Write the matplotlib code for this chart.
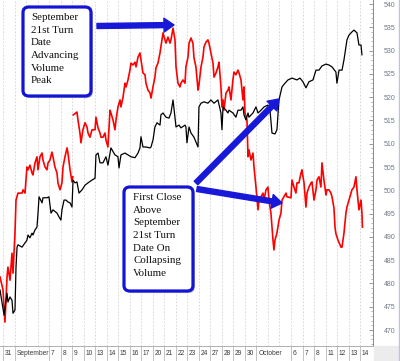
import numpy as np
import matplotlib.pyplot as plt
import matplotlib.transforms as mtransforms
from matplotlib.patches import FancyBboxPatch, FancyArrowPatch, Rectangle
from matplotlib.lines import Line2D

# x = trading session number (1 = Aug 31, ... 32 = Oct 14), fraction = time of day
black_t = [0.74, 1.09, 1.35, 1.43, 1.61, 1.78, 1.87, 2.04, 2.13, 2.22, 2.30, 2.65, 2.91, 3.08, 3.17,
           3.34, 3.52, 3.60, 3.78, 3.95, 4.04, 4.13, 4.39, 4.47, 4.82, 4.99, 5.17, 5.34, 5.69, 5.86,
           6.03, 6.12, 6.30, 6.47, 6.64, 6.82, 6.99, 7.08, 7.25, 7.42, 7.60, 7.86, 8.12, 8.38, 8.73,
           8.99, 9.07, 9.25, 9.42, 9.68, 9.94, 10.11, 10.37, 10.72, 10.98, 11.07, 11.24, 11.59, 11.85,
           12.11, 12.46, 12.72, 12.89, 12.98, 13.15, 13.41, 13.76, 13.85, 14.02, 14.19, 14.37, 14.63,
           14.71, 14.89, 15.15, 15.41, 15.58, 15.76, 15.93, 16.02, 16.28, 16.45, 16.80, 16.88, 16.97,
           17.15, 17.32, 17.58, 17.93, 18.01, 18.19, 18.45, 18.79, 19.05, 19.32, 19.66, 19.92, 20.01,
           20.10, 20.36, 20.53, 20.62, 20.96, 21.22, 21.40, 21.66, 21.83, 21.92, 22.09, 22.27, 22.35,
           22.70, 22.96, 23.14, 23.40, 23.66, 24.00, 24.18, 24.35, 24.61, 24.78, 24.96, 25.22, 25.48,
           25.74, 26.09, 26.52, 26.78, 27.04, 27.30, 27.56, 27.91, 28.17, 28.43, 28.69, 29.04, 29.30,
           29.56, 29.90, 29.99, 30.17, 30.43, 30.60, 30.86, 31.03, 31.29, 31.47, 31.73, 31.90, 32.08,
           32.16]
black_v = [478.6, 473.2, 477.9, 476.0, 477.1, 476.4, 473.6, 474.3, 483.5, 487.8, 488.3, 487.8, 488.7, 489.3, 490.4,
           489.8, 490.8, 490.4, 491.5, 492.1, 495.1, 498.6, 497.3, 498.4, 498.4, 498.6, 495.1, 495.8, 495.1, 494.3,
           493.6, 495.8, 497.9, 497.9, 497.5, 497.3, 496.4, 502.2, 501.6, 501.8, 499.4, 500.1, 501.1, 501.6, 502.2,
           502.6, 507.6, 508.0, 505.9, 505.9, 507.2, 505.4, 509.1, 507.6, 507.2, 504.8, 507.6, 508.0, 507.6,
           507.2, 507.0, 508.0, 509.1, 511.5, 509.3, 509.3, 509.1, 509.3, 510.8, 513.6, 514.5, 514.0,
           516.2, 516.6, 515.7, 515.5, 516.6, 519.4, 515.5, 513.6, 514.0, 513.4, 514.0, 513.6, 510.2,
           513.6, 512.3, 511.4, 509.3, 517.9, 518.7, 519.0, 518.7, 519.4, 518.7, 519.4, 516.6, 513.0,
           517.9, 517.2, 516.6, 517.2, 516.6, 515.7, 517.2, 517.2, 517.9, 516.2, 515.1, 516.6, 515.7,
           516.6, 517.9, 516.6, 517.2, 517.9, 518.3, 517.2, 512.3, 512.1, 513.0, 519.4, 522.2, 523.0,
           523.7, 524.1, 523.7, 524.1, 523.3, 522.0, 523.3, 523.7, 525.8, 525.8, 526.7, 527.1, 526.9,
           526.5, 525.4, 523.0, 525.8, 525.8, 528.0, 532.3, 533.3, 534.0, 534.4, 533.8, 531.2, 531.2,
           529.1]

red_t = [0.74, 1.00, 1.17, 1.26, 1.35, 1.43, 1.61, 1.78, 1.87, 2.04, 2.13, 2.30, 2.65, 2.74, 2.91,
         3.08, 3.17, 3.34, 3.52, 3.60, 3.78, 3.95, 4.04, 4.21, 4.39, 4.47, 4.65, 4.82, 4.91, 5.08,
         5.25, 5.34, 5.51, 5.69, 5.77, 5.95, 6.12, 6.21, 6.38, 6.56, 6.64, 6.82, 6.99, 7.06, 7.08,
         7.10, 7.42, 7.51, 7.68, 7.77, 7.94, 8.12, 8.29, 8.38, 8.55, 8.73, 8.99, 9.07, 9.25, 9.42,
         9.51, 9.68, 9.85, 9.94, 10.11, 10.29, 10.37, 10.55, 10.72, 10.81, 10.98, 11.16, 11.24, 11.42,
         11.59, 11.68, 11.85, 12.02, 12.11, 12.28, 12.46, 12.55, 12.72, 12.89, 12.98, 13.15, 13.33,
         13.41, 13.59, 13.76, 13.85, 14.02, 14.19, 14.28, 14.45, 14.63, 14.71, 14.89, 15.06, 15.15,
         15.32, 15.50, 15.58, 15.76, 15.93, 16.02, 16.19, 16.36, 16.45, 16.62, 16.80, 16.88, 17.06,
         17.15, 17.32, 17.49, 17.58, 17.75, 17.93, 18.01, 18.19, 18.36, 18.45, 18.62, 18.79, 18.88,
         19.05, 19.23, 19.32, 19.49, 19.66, 19.75, 19.92, 20.01, 20.10, 20.18, 20.36, 20.53, 20.62,
         20.79, 20.96, 21.05, 21.22, 21.40, 21.49, 21.66, 21.83, 21.92, 22.01, 22.18, 22.27, 22.35,
         22.53, 22.70, 22.79, 22.96, 23.14, 23.22, 23.40, 23.57, 23.66, 23.83, 24.00, 24.09, 24.26,
         24.44, 24.52, 24.61, 24.78, 24.96, 25.13, 25.22, 25.57, 25.65, 26.00, 26.09, 26.26, 26.43,
         26.52, 26.69, 26.87, 26.95, 27.13, 27.30, 27.39, 27.56, 27.74, 27.82, 28.00, 28.17, 28.26,
         28.43, 28.60, 28.69, 28.86, 29.04, 29.12, 29.30, 29.47, 29.56, 29.73, 29.82, 29.90, 30.08,
         30.34, 30.43, 30.60, 30.77, 30.86, 31.03, 31.21, 31.29, 31.47, 31.64, 31.73, 31.90, 32.08,
         32.16, 32.20]
red_v = [481.4, 478.6, 471.7, 476.4, 481.4, 483.5, 480.7, 486.5, 482.2, 490.8, 497.9, 499.4, 499.4, 500.1, 499.4,
         505.0, 504.4, 505.4, 503.7, 503.3, 505.9, 507.2, 504.4, 507.2, 508.0, 506.5, 505.0, 504.4, 505.9, 506.5,
         508.2, 507.2, 505.0, 503.7, 501.6, 500.1, 501.6, 505.0, 507.2, 509.1, 508.0, 504.4, 501.8, 502.9, np.nan,
         516.2, 516.8, 515.1, 512.3, 510.2, 513.0, 514.5, 513.6, 512.3, 511.4, 513.0, 513.0, 515.7, 513.4, 512.3,
         511.4, 511.4, 512.3, 510.8, 509.3, 517.2, 516.6, 515.1, 513.0, 515.1, 517.9, 519.4, 517.9, 520.0,
         523.0, 522.2, 523.7, 525.8, 527.3, 526.9, 527.5, 526.5, 528.6, 529.5, 528.0, 525.2, 524.8,
         523.0, 521.5, 520.9, 519.8, 522.2, 524.3, 526.3, 527.3, 529.5, 530.8, 533.8, 532.3, 531.6,
         532.9, 531.6, 532.3, 534.8, 532.3, 526.5, 523.0, 522.2, 523.0, 523.7, 523.0, 526.5, 528.6,
         531.6, 532.7, 531.6, 528.4, 526.5, 521.5, 522.6, 526.5, 528.6, 530.8, 531.8, 532.3, 531.6,
         529.5, 527.3, 524.3, 525.2, 526.5, 527.5, 522.2, 517.9, 519.4, 517.2, 520.9, 521.5, 522.2,
         519.4, 523.7, 525.4, 524.8, 525.8, 525.2, 523.7, 519.4, 522.2, 516.6, 515.1, 507.2, 508.7,
         506.5, 508.0, 505.0, 500.7, 495.8, 497.9, 498.6, 499.4, 497.9, 500.1, 500.7, 497.9, 495.1,
         489.3, 487.2, 489.3, 490.8, 493.6, 495.1, 497.9, 499.4, 498.6, 498.4, 502.2, 500.7, 499.4,
         501.6, 501.6, 503.7, 504.4, 501.6, 496.4, 499.4, 500.7, 501.6, 501.8, 497.9, 500.1, 502.2,
         502.9, 500.7, 505.9, 502.2, 499.0, 500.1, 500.1, 499.4, 498.6, 496.2, 492.1, 490.7, 489.3,
         487.8, 487.8, 490.8, 495.1, 496.4, 497.9, 499.4, 500.1, 500.7, 502.9, 500.1, 495.8, 497.9,
         495.1, 492.1]

# session labels on the time axis
day_labels = ['31', 'September', '7', '8', '9', '10', '13', '14', '15', '16', '17', '20', '21',
              '22', '23', '24', '27', '28', '29', '30', 'October', '6', '7', '8', '11', '12', '13', '14']
day_pos = [1, 2, 5, 6, 7, 8, 9, 10, 11, 12, 13, 14, 15, 16, 17, 18, 19, 20, 21, 22, 23,
           26, 27, 28, 29, 30, 31, 32]
sessions = list(range(1, 33))

note1 = "September\n21st Turn\nDate\nAdvancing\nVolume\nPeak"
note2 = "First Close\nAbove\nSeptember\n21st Turn\nDate On\nCollapsing\nVolume"

W, H = 400, 361
fig = plt.figure(figsize=(W / 100, H / 100), dpi=100)
ax = fig.add_axes([0, 15 / H, 373 / W, 346 / H])

ax.set_xlim(0.74, 33.12)
ax.set_ylim(466.57, 540.86)

# dotted session separators
ax.vlines(sessions, 466.57, 540.86, colors='#d2d2d2', linestyles=(0, (2, 2)), lw=0.6, zorder=0)

ax.plot(black_t, black_v, color='black', lw=0.9, zorder=3)
ax.plot(red_t, red_v, color='#ff0000', lw=1.2, zorder=2)

# right price axis
ax.yaxis.tick_right()
ax.set_yticks(np.arange(470, 541, 5))
ax.set_yticks(np.arange(467, 541, 1), minor=True)
ax.tick_params(axis='y', which='major', direction='in', length=3, width=0.6, color='#8a8a8a',
               labelsize=5, labelcolor='#707888', pad=8)
ax.tick_params(axis='y', which='minor', direction='in', length=1.5, width=0.5, color='#9a9a9a')
for t in ax.get_yticklabels():
    t.set_fontfamily('Liberation Sans')
ax.set_xticks([])
for s in ['top', 'left']:
    ax.spines[s].set_visible(False)
ax.spines['right'].set_color('#8a8a8a')
ax.spines['bottom'].set_color('#b0b0b0')
ax.spines['right'].set_linewidth(0.7)
ax.spines['bottom'].set_linewidth(0.7)

# day labels with separators
trans = mtransforms.blended_transform_factory(ax.transData, ax.transAxes)
for p, lab in zip(day_pos, day_labels):
    ax.text(p + 0.15, -7.5 / 346, lab, transform=trans, ha='left', va='center',
            fontsize=4.8, color='#3a3a3a', family='Liberation Sans', clip_on=False)
    ax.add_line(Line2D([p, p], [0, -14 / 346], transform=trans, color='#b8b8b8', lw=0.6, clip_on=False))

# annotation boxes
def note_box(x0, y0, x1, y1, text, tx, ty):
    sh = FancyBboxPatch((x0 + 0.005, y0 - 0.006), x1 - x0, y1 - y0,
                        boxstyle='round,pad=0,rounding_size=0.016', transform=ax.transAxes,
                        fc='#9a9a9a', ec='none', alpha=0.6, zorder=5, clip_on=False)
    bx = FancyBboxPatch((x0, y0), x1 - x0, y1 - y0,
                        boxstyle='round,pad=0,rounding_size=0.016', transform=ax.transAxes,
                        fc='white', ec='#1414d8', lw=2.3, zorder=6, clip_on=False)
    ax.add_patch(sh)
    ax.add_patch(bx)
    ax.text(tx, ty, text, transform=ax.transAxes, ha='left', va='top', fontsize=7.9,
            family='Liberation Serif', color='#111111', linespacing=1.52, zorder=7)

note_box(23 / 373, 1 - 96 / 346, 91 / 373, 1 - 7 / 346, note1, 31 / 373, 1 - 13 / 346)
note_box(124 / 373, 1 - 291 / 346, 193 / 373, 1 - 187 / 346, note2, 133 / 373, 1 - 193 / 346)

# arrows
arrow_style = 'simple,head_length=0.9,head_width=1.25,tail_width=0.45'
for (a, b) in [((97 / 373, 1 - 26 / 346), (174 / 373, 1 - 25 / 346)),
               ((196 / 373, 1 - 183 / 346), (279 / 373, 1 - 99 / 346)),
               ((197 / 373, 1 - 189 / 346), (282 / 373, 1 - 203 / 346))]:
    ax.add_patch(FancyArrowPatch(a, b, transform=ax.transAxes, arrowstyle=arrow_style,
                                 mutation_scale=8, color='#1818d8', shrinkA=0, shrinkB=0,
                                 zorder=8, clip_on=False))

# frame details at the right edge
fig.add_artist(Rectangle((373.5 / W, 0), 25 / W, 15 / H, transform=fig.transFigure,
                         color='#ececec', zorder=0))
fig.add_artist(Line2D([398.5 / W, 398.5 / W], [0, 1], transform=fig.transFigure,
                      color='#b4c6e6', lw=1))

fig.savefig('out.png', dpi=100)
